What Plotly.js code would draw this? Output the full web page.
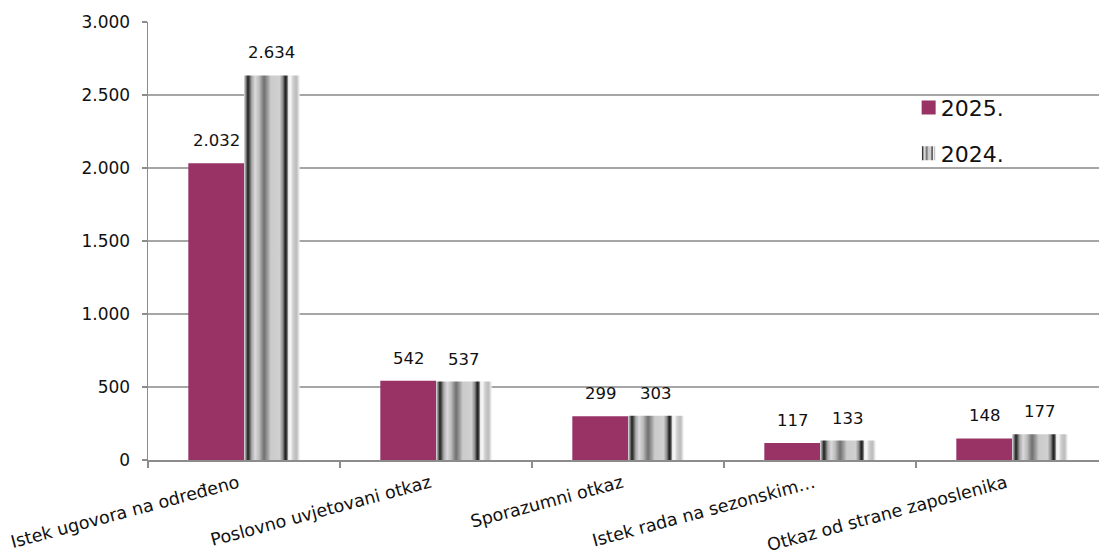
<!DOCTYPE html>
<html>
<head>
<meta charset="utf-8">
<script src="https://cdn.plot.ly/plotly-3.0.1.min.js"></script>
<style>
html,body{margin:0;padding:0;overflow:hidden;background:#fff;}
#chart{width:1108px;height:555px;}
</style>
</head>
<body>
<svg width="0" height="0" style="position:absolute">
  <defs>
    <linearGradient id="stripes" x1="0" y1="0" x2="1" y2="0">
      <stop offset="0" stop-color="#e2e2e2"/>
      <stop offset="0.04" stop-color="#777"/>
      <stop offset="0.07" stop-color="#1e1e1e"/>
      <stop offset="0.10" stop-color="#555"/>
      <stop offset="0.14" stop-color="#aaa"/>
      <stop offset="0.20" stop-color="#dadada"/>
      <stop offset="0.27" stop-color="#bdbdbd"/>
      <stop offset="0.36" stop-color="#707070"/>
      <stop offset="0.42" stop-color="#999"/>
      <stop offset="0.48" stop-color="#cbcbcb"/>
      <stop offset="0.64" stop-color="#d0d0d0"/>
      <stop offset="0.70" stop-color="#888"/>
      <stop offset="0.74" stop-color="#1e1e1e"/>
      <stop offset="0.77" stop-color="#444"/>
      <stop offset="0.80" stop-color="#eee"/>
      <stop offset="0.84" stop-color="#f6f6f6"/>
      <stop offset="0.88" stop-color="#cfcfcf"/>
      <stop offset="0.94" stop-color="#bbb"/>
      <stop offset="1" stop-color="#f2f2f2"/>
    </linearGradient>
  </defs>
</svg>
<div id="chart"></div>
<script>
const categories = [
  "Istek ugovora na određeno",
  "Poslovno uvjetovani otkaz",
  "Sporazumni otkaz",
  "Istek rada na sezonskim…",
  "Otkaz od strane zaposlenika"
];
const seriesNames = ["2025.", "2024."];
const values2025 = [2032, 542, 299, 117, 148];
const values2024 = [2634, 537, 303, 133, 177];
const yTickVals = [0, 500, 1000, 1500, 2000, 2500, 3000];

const FONT = "DejaVu Sans, Verdana, sans-serif";
const fmt = v => v.toLocaleString('de-DE');

const traces = [
  {
    type: 'bar', name: seriesNames[0], x: categories, y: values2025,
    legendgroup: 'a',
    marker: {color: '#993366', line: {width: 0}},
    hoverinfo: 'none'
  },
  {
    type: 'bar', name: seriesNames[1], x: categories, y: values2024,
    legendgroup: 'b',
    marker: {color: '#c8c8c8', line: {width: 0}},
    hoverinfo: 'none'
  }
];

const annotations = [];
[values2025, values2024].forEach((vals, si) => {
  vals.forEach((v, i) => {
    annotations.push({
      x: categories[i], y: v, xref: 'x', yref: 'y',
      text: fmt(v), showarrow: false,
      xshift: si === 0 ? -27.5 : 27.5,
      yanchor: 'bottom', yshift: 11,
      font: {family: FONT, size: 16.5, color: '#111'}
    });
  });
});

const layout = {
  width: 1108, height: 555,
  margin: {l: 148, r: 0, t: 22, b: 95},
  paper_bgcolor: '#fff', plot_bgcolor: '#fff',
  separators: ',.',
  barmode: 'group', bargap: 0.42, bargroupgap: 0,
  font: {family: FONT, size: 16.5, color: '#111'},
  showlegend: true,
  legend: {
    x: 0.784, y: 0.852, xanchor: 'left', yanchor: 'top',
    traceorder: 'grouped', tracegroupgap: 14,
    font: {family: FONT, size: 22, color: '#111'},
    bgcolor: 'rgba(0,0,0,0)', itemwidth: 30
  },
  xaxis: {
    type: 'category', range: [-0.5, 4.5],
    showline: true, linecolor: '#8c8c8c', linewidth: 1.5,
    ticks: 'outside', tickson: 'boundaries', ticklen: 6, tickcolor: '#8c8c8c', tickwidth: 1.5,
    tickangle: -15, ticklabelshift: -6, ticklabelstandoff: 5,
    tickfont: {family: FONT, size: 17.5, color: '#111'},
    showgrid: false, zeroline: false, fixedrange: true
  },
  yaxis: {
    range: [0, 3000], tickvals: yTickVals, tickformat: ',d',
    showline: true, linecolor: '#8c8c8c', linewidth: 1.5,
    ticks: 'outside', ticklen: 5, tickcolor: '#8c8c8c', tickwidth: 1.5,
    ticklabelstandoff: 8,
    showgrid: true, gridcolor: '#a6a6a6', gridwidth: 1.5,
    zeroline: false, tickfont: {family: FONT, size: 17, color: '#111'},
    fixedrange: true
  },
  annotations: annotations
};

Plotly.newPlot('chart', traces, layout, {displayModeBar: false, staticPlot: true}).then(() => {
  const barTraces = document.querySelectorAll('#chart .barlayer .trace');
  if (barTraces[1]) {
    barTraces[1].querySelectorAll('path').forEach(p => { p.style.fill = 'url(#stripes)'; });
  }
  const legTraces = document.querySelectorAll('#chart .legend .traces');
  legTraces.forEach((lt, i) => {
    lt.querySelectorAll('.legendpoints path').forEach(p => {
      p.setAttribute('d', 'M15,7H1V-7H15Z');
      if (i === 1) p.style.fill = 'url(#stripes)';
    });
  });
});
</script>
</body>
</html>
